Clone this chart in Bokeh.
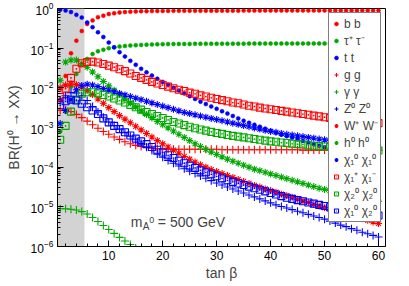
import numpy as np
from bokeh.plotting import figure
from bokeh.models import (BoxAnnotation, Label, Legend, LegendItem,
                          FixedTicker, Range1d)
from bokeh.embed import file_html
from bokeh.resources import INLINE

# tan(beta) grid
tanb = list(range(1, 61))

# log10 of branching ratios
bb_log = [-2.30, -1.70, -1.13, -0.81, -0.57, -0.39, -0.30, -0.22, -0.18, -0.14,
          -0.12, -0.10, -0.09, -0.08, -0.075, -0.07, -0.068, -0.066, -0.064, -0.062,
          -0.060, -0.059, -0.058, -0.058, -0.057, -0.057, -0.056, -0.056, -0.055, -0.055,
          -0.055, -0.054, -0.054, -0.054, -0.053, -0.053, -0.053, -0.053, -0.052, -0.052,
          -0.052, -0.052, -0.052, -0.051, -0.051, -0.051, -0.051, -0.051, -0.051, -0.050,
          -0.050, -0.050, -0.050, -0.050, -0.050, -0.050, -0.050, -0.050, -0.050, -0.050]
tautau_log = [-3.10, -2.60, -1.97, -1.65, -1.42, -1.27, -1.15, -1.08, -1.04, -1.00,
              -0.98, -0.96, -0.945, -0.935, -0.925, -0.918, -0.912, -0.907, -0.903, -0.900,
              -0.898, -0.896, -0.894, -0.893, -0.892, -0.891, -0.890, -0.889, -0.888, -0.888,
              -0.887, -0.887, -0.886, -0.886, -0.886, -0.885, -0.885, -0.885, -0.885, -0.884,
              -0.884, -0.884, -0.884, -0.883, -0.883, -0.883, -0.883, -0.882, -0.882, -0.882,
              -0.882, -0.881, -0.881, -0.881, -0.881, -0.880, -0.880, -0.880, -0.880, -0.880]
tt_log = [-0.03, -0.05, -0.09, -0.16, -0.23, -0.35, -0.47, -0.60, -0.72, -0.86,
          -0.98, -1.10, -1.21, -1.32, -1.42, -1.52, -1.61, -1.69, -1.77, -1.85,
          -1.92, -2.00, -2.07, -2.14, -2.21, -2.28, -2.35, -2.41, -2.47, -2.53,
          -2.59, -2.65, -2.71, -2.77, -2.83, -2.88, -2.93, -2.98, -3.03, -3.08,
          -3.13, -3.18, -3.22, -3.26, -3.30, -3.34, -3.38, -3.42, -3.46, -3.50,
          -3.53, -3.57, -3.60, -3.64, -3.67, -3.70, -3.73, -3.76, -3.79, -3.82]
gg_log = [-2.57, -2.55, -2.60, -2.67, -2.75, -2.84, -2.93, -3.02, -3.10, -3.17,
          -3.24, -3.30, -3.36, -3.41, -3.45, -3.48, -3.50, -3.52, -3.53, -3.54,
          -3.55, -3.55, -3.55, -3.55, -3.55, -3.55, -3.55, -3.55, -3.55, -3.55,
          -3.56, -3.56, -3.56, -3.56, -3.56, -3.56, -3.56, -3.56, -3.56, -3.56,
          -3.56, -3.56, -3.56, -3.56, -3.56, -3.57, -3.57, -3.57, -3.57, -3.57,
          -3.57, -3.57, -3.57, -3.57, -3.57, -3.57, -3.57, -3.57, -3.57, -3.57]
gamgam_tanb = list(range(1, 16))
gamgam_log = [-5.05, -5.05, -5.06, -5.08, -5.12, -5.18, -5.27, -5.37, -5.47, -5.57,
              -5.67, -5.77, -5.86, -5.95, -6.04]
zz_log = [-2.32, -2.20, -2.12, -2.13, -2.20, -2.32, -2.47, -2.61, -2.74, -2.86,
          -2.95, -3.04, -3.13, -3.22, -3.31, -3.40, -3.49, -3.58, -3.67, -3.75,
          -3.83, -3.90, -3.97, -4.04, -4.10, -4.16, -4.22, -4.28, -4.34, -4.40,
          -4.45, -4.50, -4.55, -4.60, -4.65, -4.70, -4.75, -4.80, -4.85, -4.90,
          -4.95, -4.99, -5.03, -5.07, -5.11, -5.15, -5.19, -5.23, -5.27, -5.31,
          -5.36, -5.41, -5.46, -5.50, -5.55, -5.59, -5.64, -5.68, -5.72, -5.76]
ww_log = [-2.00, -1.93, -1.90, -1.92, -1.98, -2.07, -2.17, -2.28, -2.39, -2.50,
          -2.60, -2.70, -2.79, -2.88, -2.97, -3.06, -3.15, -3.24, -3.33, -3.41,
          -3.49, -3.57, -3.65, -3.73, -3.80, -3.87, -3.94, -4.00, -4.06, -4.11,
          -4.16, -4.21, -4.26, -4.31, -4.36, -4.41, -4.46, -4.50, -4.55, -4.59,
          -4.63, -4.68, -4.72, -4.76, -4.81, -4.85, -4.89, -4.94, -4.98, -5.02,
          -5.06, -5.10, -5.14, -5.18, -5.22, -5.26, -5.30, -5.34, -5.38, -5.42]
hh_log = [-1.81, -1.35, -1.30, -1.30, -1.39, -1.48, -1.60, -1.72, -1.84, -1.95,
          -2.06, -2.17, -2.28, -2.38, -2.48, -2.58, -2.67, -2.76, -2.85, -2.93,
          -3.01, -3.09, -3.17, -3.25, -3.33, -3.41, -3.48, -3.55, -3.62, -3.68,
          -3.74, -3.80, -3.85, -3.90, -3.95, -4.00, -4.05, -4.09, -4.13, -4.17,
          -4.21, -4.25, -4.29, -4.33, -4.37, -4.41, -4.45, -4.49, -4.53, -4.56,
          -4.59, -4.62, -4.65, -4.68, -4.71, -4.74, -4.77, -4.80, -4.83, -4.86]
n11_log = [-2.90, -2.57, -2.30, -2.05, -1.94, -1.91, -1.93, -1.97, -2.02, -2.06,
           -2.10, -2.14, -2.18, -2.22, -2.26, -2.30, -2.34, -2.38, -2.42, -2.46,
           -2.50, -2.54, -2.58, -2.62, -2.65, -2.68, -2.71, -2.74, -2.77, -2.80,
           -2.83, -2.86, -2.89, -2.92, -2.95, -2.98, -3.01, -3.04, -3.07, -3.10,
           -3.12, -3.15, -3.17, -3.19, -3.21, -3.23, -3.25, -3.27, -3.29, -3.31,
           -3.33, -3.35, -3.37, -3.39, -3.41, -3.43, -3.45, -3.47, -3.49, -3.51]
c11_log = [-2.23, -2.02, -1.75, -1.52, -1.38, -1.35, -1.34, -1.36, -1.40, -1.44,
           -1.48, -1.53, -1.58, -1.64, -1.70, -1.75, -1.80, -1.85, -1.89, -1.93,
           -1.97, -2.01, -2.05, -2.08, -2.12, -2.15, -2.19, -2.22, -2.25, -2.28,
           -2.31, -2.34, -2.37, -2.39, -2.42, -2.45, -2.47, -2.50, -2.52, -2.54,
           -2.56, -2.58, -2.60, -2.62, -2.64, -2.66, -2.68, -2.70, -2.72, -2.74,
           -2.76, -2.77, -2.79, -2.80, -2.82, -2.83, -2.85, -2.86, -2.88, -2.89]
n22_log = [-3.31, -2.96, -2.60, -2.30, -2.15, -2.11, -2.11, -2.14, -2.18, -2.22,
           -2.27, -2.32, -2.37, -2.43, -2.49, -2.55, -2.61, -2.66, -2.71, -2.76,
           -2.81, -2.86, -2.90, -2.94, -2.98, -3.02, -3.05, -3.08, -3.11, -3.14,
           -3.16, -3.19, -3.21, -3.23, -3.25, -3.27, -3.29, -3.31, -3.33, -3.35,
           -3.36, -3.38, -3.39, -3.41, -3.42, -3.43, -3.45, -3.46, -3.47, -3.48,
           -3.49, -3.50, -3.51, -3.52, -3.53, -3.54, -3.55, -3.56, -3.57, -3.58]
n12_log = [-2.44, -2.34, -2.30, -2.32, -2.40, -2.49, -2.57, -2.66, -2.77, -2.87,
           -2.96, -3.04, -3.12, -3.20, -3.28, -3.35, -3.42, -3.49, -3.56, -3.63,
           -3.70, -3.77, -3.84, -3.90, -3.96, -4.02, -4.08, -4.13, -4.18, -4.23,
           -4.28, -4.33, -4.37, -4.41, -4.45, -4.49, -4.53, -4.57, -4.61, -4.65,
           -4.69, -4.73, -4.77, -4.80, -4.83, -4.86, -4.89, -4.92, -4.95, -4.98,
           -5.01, -5.04, -5.06, -5.09, -5.11, -5.14, -5.16, -5.18, -5.20, -5.22]

excluded_tanb_max = 5.5
x_ticks = [10, 20, 30, 40, 50, 60]

RED, GREEN, BLUE = "#ff0000", "#00a800", "#0000ff"
FONT = "Liberation Sans"

p = figure(width=409, height=286, y_axis_type="log",
           x_range=Range1d(0.5, 61.3), y_range=Range1d(1e-6, 1.0),
           output_backend="svg", toolbar_location=None,
           min_border_left=57, min_border_right=24, min_border_top=8,
           min_border_bottom=40)
p.grid.visible = False
p.outline_line_color = "black"
p.outline_line_width = 1
p.background_fill_color = "white"

p.add_layout(BoxAnnotation(right=excluded_tanb_max, fill_color="#d3d3d3",
                           fill_alpha=1.0, line_color=None, level="underlay"))

major_y = [10.0 ** k for k in range(-6, 1)]
minor_y = [m * 10.0 ** k for k in range(-6, 0) for m in range(2, 10)]
minor_x = [v for v in range(2, 61, 2) if v % 10]

for ax in (p.xaxis[0], p.yaxis[0]):
    ax.major_tick_in = 6
    ax.major_tick_out = 0
    ax.minor_tick_in = 3
    ax.minor_tick_out = 0
    ax.axis_line_color = "black"
    ax.major_tick_line_color = "black"
    ax.minor_tick_line_color = "black"
    ax.major_label_text_font = FONT
    ax.major_label_text_font_size = "12px"
    ax.major_label_text_color = "black"
    ax.axis_label_text_font = FONT
    ax.axis_label_text_font_size = "14px"
    ax.axis_label_text_font_style = "normal"

p.yaxis.major_label_standoff = 4
p.xaxis.major_label_standoff = 4
p.yaxis.ticker = FixedTicker(ticks=major_y, minor_ticks=minor_y)
p.xaxis.ticker = FixedTicker(ticks=x_ticks, minor_ticks=minor_x)
p.yaxis.axis_label = "BR(H⁰ → XX)"
p.yaxis.axis_label_standoff = 6
p.xaxis.axis_label = "tan β"
p.xaxis.axis_label_standoff = 2


def br(vals):
    return [10.0 ** v for v in vals]


series = [
    ("b b", tanb, bb_log, "circle", RED, 4),
    ("τ⁺ τ⁻", tanb, tautau_log, "circle", GREEN, 4),
    ("t t", tanb, tt_log, "circle", BLUE, 4),
    ("g g", tanb, gg_log, "cross", RED, 8),
    ("γ γ", gamgam_tanb, gamgam_log, "cross", GREEN, 8),
    ("Z⁰ Z⁰", tanb, zz_log, "cross", BLUE, 8),
    ("W⁺ W⁻", tanb, ww_log, "asterisk", RED, 7),
    ("h⁰ h⁰", tanb, hh_log, "asterisk", GREEN, 7),
    ("χ₁⁰ χ₁⁰", tanb, n11_log, "asterisk", BLUE, 7),
    ("χ₁⁺ χ₁⁻", tanb, c11_log, "square_dot", RED, 7),
    ("χ₂⁰ χ₂⁰", tanb, n22_log, "square_dot", GREEN, 7),
    ("χ₁⁰ χ₂⁰", tanb, n12_log, "square_dot", BLUE, 7),
]

items = []
for name, xs, ys, marker, color, size in series:
    if marker == "circle":
        r = p.scatter(xs, br(ys), marker=marker, size=size, fill_color=color,
                      line_color=color, line_width=0.5)
    else:
        r = p.scatter(xs, br(ys), marker=marker, size=size, fill_color=None,
                      line_color=color, line_width=1.1)
    items.append(LegendItem(label=name, renderers=[r]))

legend = Legend(items=items, location="top_right", margin=4, padding=2,
                spacing=0, glyph_height=17, label_height=17, glyph_width=10,
                label_standoff=3, label_text_font=FONT,
                label_text_font_size="12px", border_line_color="black",
                border_line_width=1, background_fill_alpha=1.0)
p.add_layout(legend)

ann_x, ann_y = 14.1, 10 ** -5.39
p.add_layout(Label(x=ann_x, y=ann_y, text="m", text_font=FONT,
                   text_font_size="14px", text_baseline="middle"))
p.add_layout(Label(x=ann_x, y=ann_y, x_offset=12, y_offset=-4, text="A",
                   text_font=FONT, text_font_size="10px", text_baseline="middle"))
p.add_layout(Label(x=ann_x, y=ann_y, x_offset=18.5, y_offset=2, text="0",
                   text_font=FONT, text_font_size="9px", text_baseline="middle"))
p.add_layout(Label(x=ann_x, y=ann_y, x_offset=27, text="= 500 GeV",
                   text_font=FONT, text_font_size="14px", text_baseline="middle"))

open("out.html", "w").write(file_html(p, INLINE))
